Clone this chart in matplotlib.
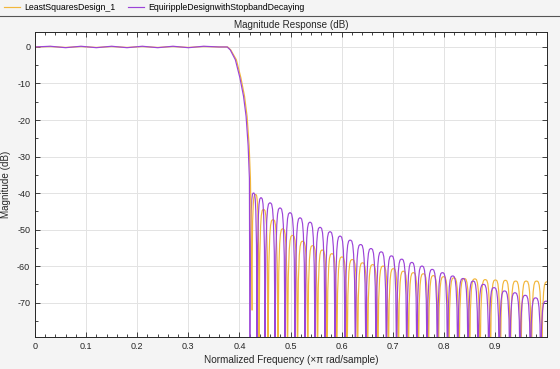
import numpy as np
import matplotlib
matplotlib.use("Agg")
import matplotlib.pyplot as plt
from matplotlib.path import Path
from matplotlib.patches import PathPatch
from matplotlib.lines import Line2D

plt.rcParams["font.family"] = ["Liberation Sans", "DejaVu Sans"]
plt.rcParams["axes.unicode_minus"] = False

names = ["LeastSquaresDesign_1", "EquirippleDesignwithStopbandDecaying"]
colors = ["#f2b73c", "#9c44d8"]

# passband + transition (normalized freq, dB)
ls_f = [0.0, 0.03, 0.06, 0.09, 0.12, 0.15, 0.18, 0.21, 0.24, 0.27, 0.30, 0.33, 0.36,
        0.377, 0.383, 0.394, 0.403, 0.410, 0.415, 0.419, 0.4215, 0.423, 0.4247]
ls_db = [0.0, 0.12, -0.12, 0.12, -0.12, 0.12, -0.12, 0.12, -0.12, 0.12, -0.12, 0.12, 0.0,
         0.0, -0.8, -3.5, -8.5, -13.5, -19.0, -27.0, -36.0, -50.0, -72.0]
eq_f = [0.0, 0.03, 0.06, 0.09, 0.12, 0.15, 0.18, 0.21, 0.24, 0.27, 0.30, 0.33, 0.36,
        0.376, 0.382, 0.392, 0.401, 0.408, 0.413, 0.417, 0.4195, 0.4207]
eq_db = [0.0, 0.2, -0.2, 0.2, -0.2, 0.2, -0.2, 0.2, -0.2, 0.2, -0.2, 0.2, 0.0,
         0.0, -0.8, -3.5, -8.5, -13.5, -19.0, -27.0, -36.0, -100.0]

# stopband: null frequencies, null depths, lobe peak levels
ls_nulls = [0.4247, 0.4384, 0.4560, 0.4755, 0.4941, 0.5137, 0.5337, 0.5528, 0.5714, 0.5904,
            0.6106, 0.6311, 0.6507, 0.6708, 0.6914, 0.7110, 0.7305, 0.7501, 0.7697, 0.7892,
            0.8096, 0.8297, 0.8503, 0.8708, 0.8910, 0.9106, 0.9301, 0.9507, 0.9712, 0.9916, 1.0117]
ls_depth = [-72.0] + [-100.0] * 30
ls_peaks = [-40.4, -44.5, -47.3, -49.8, -51.6, -53.2, -54.4, -55.6, -56.6, -57.5,
            -58.2, -59.1, -59.6, -60.0, -60.7, -61.4, -61.8, -62.1, -62.6, -62.9,
            -63.2, -63.4, -63.5, -63.7, -63.8, -63.9, -64.1, -64.1, -64.1, -64.3]

eq_nulls = [0.4207, 0.4344, 0.4501, 0.4697, 0.4892, 0.5088, 0.5284, 0.5479, 0.5675, 0.5871,
            0.6067, 0.6268, 0.6474, 0.6673, 0.6875, 0.7074, 0.7274, 0.7472, 0.7671, 0.7873,
            0.8072, 0.8272, 0.8474, 0.8669, 0.8879, 0.9084, 0.9290, 0.9491, 0.9693, 0.9896, 1.0098]
eq_depth = [-100.0] * 31
eq_peaks = [-40.0, -41.3, -42.7, -44.1, -45.4, -46.8, -48.0, -49.4, -50.6, -51.8,
            -52.9, -54.1, -55.2, -56.1, -57.2, -58.1, -59.0, -60.0, -60.9, -61.8,
            -62.7, -63.4, -64.1, -65.0, -65.9, -66.8, -67.3, -68.0, -68.7, -69.6]

xticks = [0, 0.1, 0.2, 0.3, 0.4, 0.5, 0.6, 0.7, 0.8, 0.9]
xticklabels = ["0", "0.1", "0.2", "0.3", "0.4", "0.5", "0.6", "0.7", "0.8", "0.9"]
yticks = [0, -10, -20, -30, -40, -50, -60, -70]
yticklabels = ["0", "-10", "-20", "-30", "-40", "-50", "-60", "-70"]


def lobes(ax, nulls, depth, peaks, color):
    verts, codes = [], []
    for i, p in enumerate(peaks):
        a, b = nulls[i], nulls[i + 1]
        w = b - a
        m = (a + b) / 2
        verts += [(a, depth[i]), (a, p), (a + 0.2 * w, p), (m, p),
                  (b - 0.2 * w, p), (b, p), (b, depth[i + 1])]
        codes += [Path.MOVETO] + [Path.CURVE4] * 6
    ax.add_patch(PathPatch(Path(verts, codes), fill=False, edgecolor=color, lw=0.85))


fig = plt.figure(figsize=(5.6, 3.69), dpi=100, facecolor="#f4f4f4")
ax = fig.add_axes([0.0625, 0.0867, 0.9145, 0.8266])
ax.set_facecolor("white")

ax.plot(ls_f, ls_db, color=colors[0], lw=0.85)
lobes(ax, ls_nulls, ls_depth, ls_peaks, colors[0])
ax.plot(eq_f, eq_db, color=colors[1], lw=0.85)
lobes(ax, eq_nulls, eq_depth, eq_peaks, colors[1])

ax.set_xlim(0, 1.002)
ax.set_ylim(-79.4, 4.1)
ax.set_xticks(xticks)
ax.set_xticklabels(xticklabels)
ax.set_yticks(yticks)
ax.set_yticklabels(yticklabels)
ax.set_xticks(np.arange(0, 1.0, 0.02), minor=True)
ax.set_yticks(np.arange(-75, 5, 5), minor=True)
ax.tick_params(which="both", direction="in", top=True, right=True,
               labelsize=6.5, colors="#262626", width=0.6)
ax.tick_params(which="major", length=3.5)
ax.tick_params(which="minor", length=2)
ax.grid(True, which="major", color="#e3e3e3", lw=0.7)
ax.set_axisbelow(True)
for s in ax.spines.values():
    s.set_color("#262626")
    s.set_linewidth(0.7)

ax.set_title("Magnitude Response (dB)", fontsize=7.1, color="#262626", pad=3)
ax.set_xlabel("Normalized Frequency (\u00d7\u03c0 rad/sample)", fontsize=7.2,
              color="#262626", labelpad=3)
ax.set_ylabel("Magnitude (dB)", fontsize=7.1, color="#262626", labelpad=4)

handles = [Line2D([], [], color=c, lw=0.85) for c in colors]
fig.legend(handles, names, loc="upper left", bbox_to_anchor=(0.0, 1.0), ncol=2,
           frameon=False, fontsize=6.3, handlelength=1.85, handletextpad=0.5,
           columnspacing=1.4, borderaxespad=0.0)
fig.add_artist(Line2D([0, 1], [0.9566, 0.9566], transform=fig.transFigure,
                      color="#555555", lw=0.8))

fig.savefig("out.png", dpi=100, facecolor=fig.get_facecolor())
